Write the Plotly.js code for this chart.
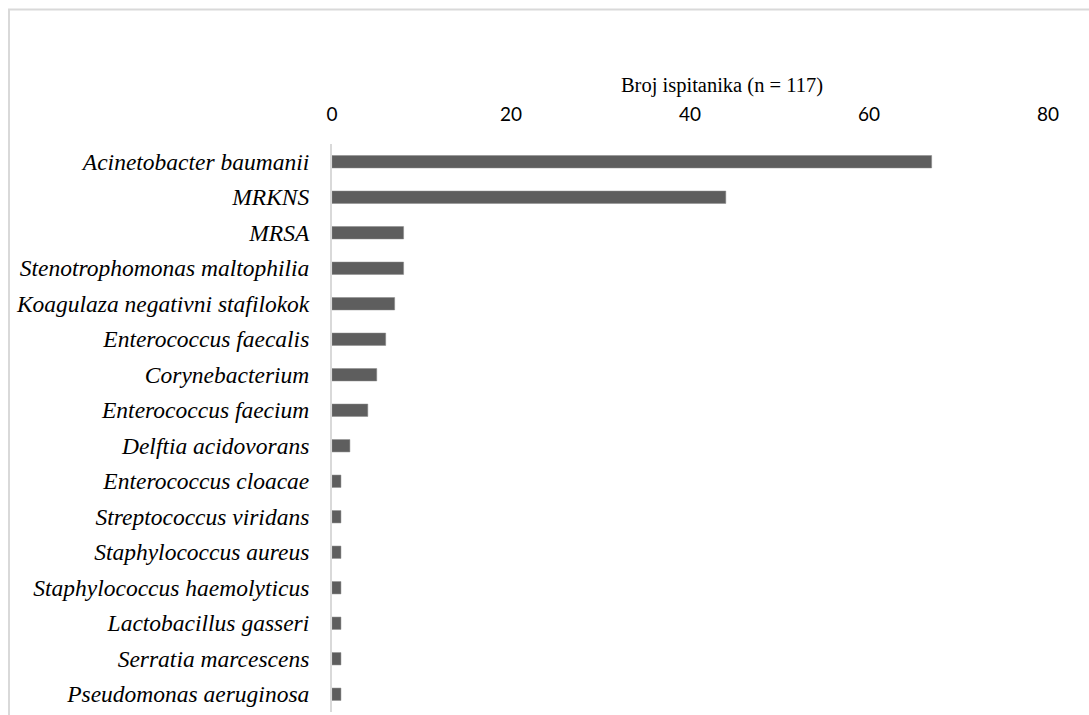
<!DOCTYPE html>
<html>
<head>
<meta charset="utf-8">
<script src="https://cdn.plot.ly/plotly-3.0.1.min.js"></script>
<style>html,body{margin:0;padding:0;background:#fff;}#chart{width:1089px;height:715px;}</style>
</head>
<body>
<div id="chart"></div>
<script>
const categories = [
  "Acinetobacter baumanii",
  "MRKNS",
  "MRSA",
  "Stenotrophomonas maltophilia",
  "Koagulaza negativni stafilokok",
  "Enterococcus faecalis",
  "Corynebacterium",
  "Enterococcus faecium",
  "Delftia acidovorans",
  "Enterococcus cloacae",
  "Streptococcus viridans",
  "Staphylococcus aureus",
  "Staphylococcus haemolyticus",
  "Lactobacillus gasseri",
  "Serratia marcescens",
  "Pseudomonas aeruginosa"
];
const counts = [67, 44, 8, 8, 7, 6, 5, 4, 2, 1, 1, 1, 1, 1, 1, 1];
const xTicks = [0, 20, 40, 60, 80];
const chartTitle = "Broj ispitanika (n = 117)";

const trace = {
  type: "bar",
  orientation: "h",
  x: counts,
  y: categories,
  marker: {color: "#5e5e5e", line: {color: "#8a8a8a", width: 0.5}},
  hoverinfo: "x+y"
};

const L = 332, R = 1048, T = 144, B = 712;
const pw = R - L, ph = B - T;
function px(x) { return (x - L) / pw; }
function py(y) { return (B - y) / ph; }

const layout = {
  width: 1089, height: 715,
  margin: {l: L, r: 1089 - R, t: T, b: 715 - B, pad: 0},
  paper_bgcolor: "#ffffff",
  plot_bgcolor: "#ffffff",
  showlegend: false,
  bargap: 0.65,
  title: {
    text: chartTitle,
    font: {family: "Liberation Serif, Times New Roman, serif", size: 20.5, color: "#000000"},
    xref: "paper", x: px(722), xanchor: "center",
    yref: "container", y: 1 - 85 / 715, yanchor: "middle"
  },
  xaxis: {
    side: "top",
    range: [0, 80],
    tickvals: xTicks,
    ticktext: xTicks.map(String),
    showgrid: false,
    zeroline: false,
    showline: false,
    ticks: "",
    tickfont: {family: "Lato, Open Sans, sans-serif", size: 19, color: "#000000"},
    ticklabelstandoff: 18,
    fixedrange: true
  },
  yaxis: {
    type: "category",
    categoryorder: "array",
    categoryarray: categories,
    range: [categories.length - 0.5, -0.5],
    showgrid: false,
    zeroline: false,
    showline: true,
    linecolor: "#d9d9d9",
    linewidth: 2,
    ticks: "",
    ticklabelstandoff: 16,
    tickfont: {family: "Liberation Serif, Times New Roman, serif", size: 23.5, color: "#000000", style: "italic"},
    fixedrange: true
  },
  shapes: [
    {
      type: "path",
      xref: "paper", yref: "paper",
      path: "M " + px(9) + " " + py(716) + " L " + px(9) + " " + py(9.5) + " L " + px(1095) + " " + py(9.5),
      line: {color: "#d9d9d9", width: 2}
    }
  ]
};

Plotly.newPlot("chart", [trace], layout, {displayModeBar: false, staticPlot: true});
</script>
</body>
</html>
